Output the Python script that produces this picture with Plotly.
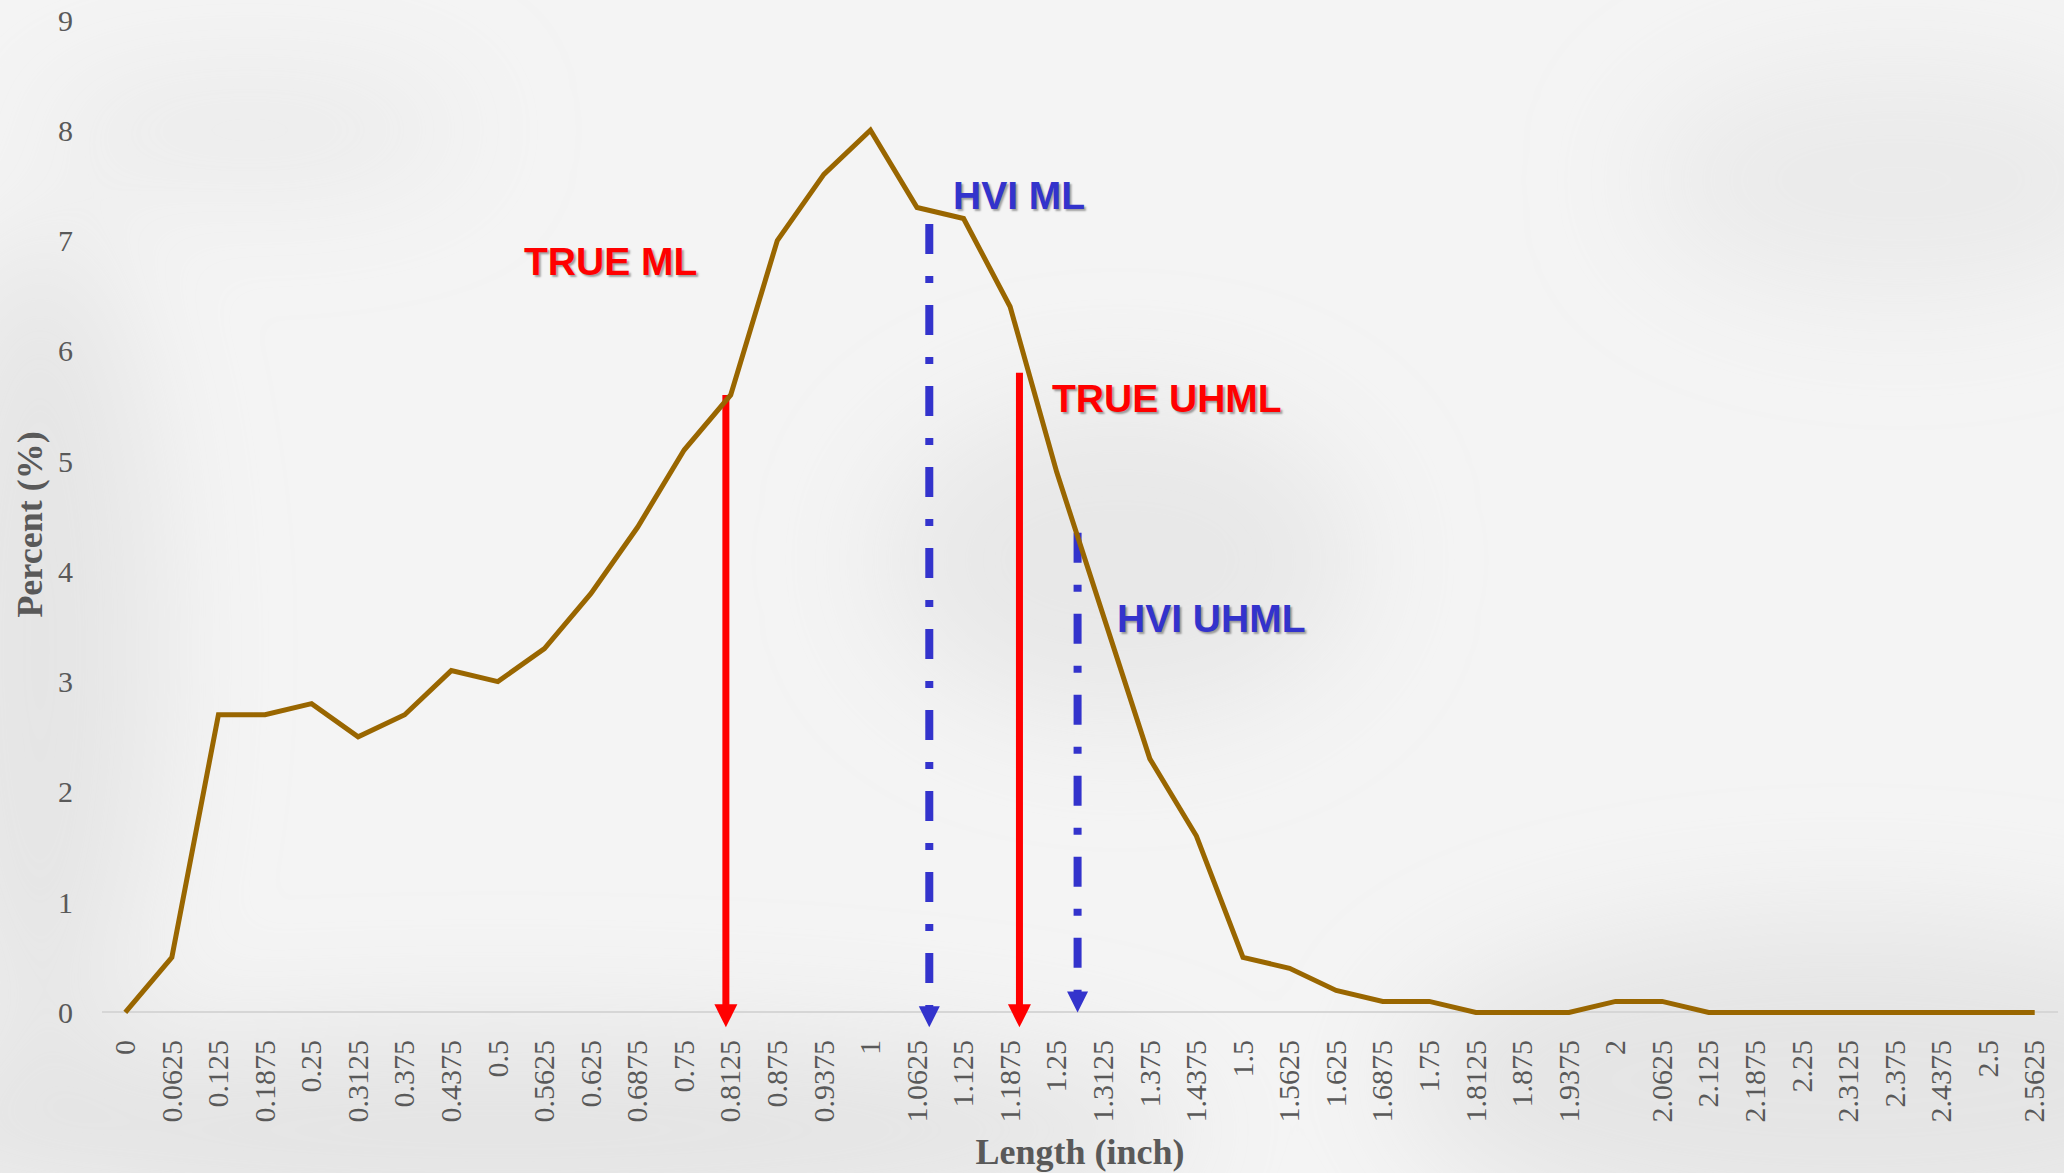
import base64
import plotly.graph_objects as go

# fibre length distribution (percent per 1/16 inch class)
length_labels = ["0", "0.0625", "0.125", "0.1875", "0.25", "0.3125", "0.375", "0.4375",
                 "0.5", "0.5625", "0.625", "0.6875", "0.75", "0.8125", "0.875", "0.9375",
                 "1", "1.0625", "1.125", "1.1875", "1.25", "1.3125", "1.375", "1.4375",
                 "1.5", "1.5625", "1.625", "1.6875", "1.75", "1.8125", "1.875", "1.9375",
                 "2", "2.0625", "2.125", "2.1875", "2.25", "2.3125", "2.375", "2.4375",
                 "2.5", "2.5625"]
percent = [0, 0.5, 2.7, 2.7, 2.8, 2.5, 2.7, 3.1, 3.0, 3.3, 3.8, 4.4, 5.1, 5.6,
           7.0, 7.6, 8.0, 7.3, 7.2, 6.4, 4.9, 3.6, 2.3, 1.6, 0.5, 0.4, 0.2, 0.1,
           0.1, 0, 0, 0, 0.1, 0.1, 0, 0, 0, 0, 0, 0, 0, 0]
lengths = [float(s) for s in length_labels]
y_ticks = [0, 1, 2, 3, 4, 5, 6, 7, 8, 9]

# length indicators drawn as arrows
indicator_names = ["TRUE ML", "HVI ML", "TRUE UHML", "HVI UHML"]
indicator_x = [0.806, 1.079, 1.200, 1.278]
indicator_top = [5.6, 7.15, 5.8, 4.35]
indicator_tip = [-0.135, -0.135, -0.135, 0.0]
label_x = [0.532, 1.108, 1.241, 1.328]
label_y = [6.81, 7.41, 5.57, 3.57]

RED = "#ff0000"
BLUE = "#3333cc"
styles = [
    dict(color=RED, width=7, dash="solid", head=23),
    dict(color=BLUE, width=8, dash="30px,22px,7px,22px", head=21),
    dict(color=RED, width=7, dash="solid", head=23),
    dict(color=BLUE, width=8, dash="30px,22px,7px,22px", head=21),
]

W, H = 2064, 1173
Y_MIN = -0.15
M = dict(l=102, r=6, t=20, b=144)
plot_w = W - M["l"] - M["r"]
plot_h = H - M["t"] - M["b"]
px_per_unit = plot_h / (9 - Y_MIN)

# soft grey backdrop, roughly like the smoky photo behind the original chart
bg_svg = f"""<svg xmlns='http://www.w3.org/2000/svg' width='{W}' height='{H}'>
<defs><filter id='b' x='-50%' y='-50%' width='200%' height='200%'><feGaussianBlur stdDeviation='60'/></filter></defs>
<rect width='{W}' height='{H}' fill='#f4f4f4'/>
<g filter='url(#b)' fill='#d9d9d9'>
<ellipse cx='40' cy='650' rx='120' ry='420' opacity='0.55'/>
<ellipse cx='500' cy='1130' rx='700' ry='100' opacity='0.6'/>
<ellipse cx='1850' cy='1080' rx='450' ry='160' opacity='0.55'/>
<ellipse cx='1120' cy='560' rx='240' ry='160' opacity='0.45'/>
<ellipse cx='1900' cy='180' rx='260' ry='120' opacity='0.35'/>
<ellipse cx='250' cy='130' rx='220' ry='60' opacity='0.35'/>
</g>
</svg>"""
bg_src = "data:image/svg+xml;base64," + base64.b64encode(bg_svg.encode()).decode()

fig = go.Figure()

for name, x, top, tip, st in zip(indicator_names, indicator_x, indicator_top, indicator_tip, styles):
    bottom = tip + 0.6 * st["head"] / px_per_unit
    fig.add_trace(go.Scatter(
        x=[x, x], y=[top, bottom], mode="lines",
        line=dict(color=st["color"], width=st["width"], dash=st["dash"]),
        hoverinfo="skip", showlegend=False))
    fig.add_trace(go.Scatter(
        x=[x], y=[tip], mode="markers",
        marker=dict(symbol="arrow-down", size=st["head"], color=st["color"], line=dict(width=0)),
        hoverinfo="skip", showlegend=False, cliponaxis=False))

fig.add_trace(go.Scatter(
    x=lengths, y=percent, mode="lines",
    line=dict(color="#996600", width=5),
    name="Percent", showlegend=False, cliponaxis=False))

for name, lx, ly, st in zip(indicator_names, label_x, label_y, styles):
    fig.add_annotation(
        x=lx, y=ly, xref="x", yref="y", text=name, showarrow=False,
        xanchor="left", yanchor="middle",
        font=dict(family="Liberation Sans, Arial", size=39, color=st["color"],
                  weight=700, shadow="2px 2px 2px rgba(0,0,0,0.35)"))

fig.add_layout_image(
    source=bg_src, xref="paper", yref="paper",
    x=-M["l"] / plot_w, y=1 + M["t"] / plot_h,
    sizex=W / plot_w, sizey=H / plot_h,
    xanchor="left", yanchor="top", sizing="stretch", layer="below")

tick_font = dict(family="Liberation Serif, Times New Roman", size=30, color="#595959")
title_font = dict(family="Liberation Serif, Times New Roman", size=36, color="#595959", weight=700)

fig.update_layout(
    width=W, height=H, margin=M,
    paper_bgcolor="#f4f4f4", plot_bgcolor="rgba(0,0,0,0)",
    xaxis=dict(range=[-0.03125, 2.59375], tickvals=lengths, ticktext=length_labels,
               tickangle=-90, tickfont=tick_font, showgrid=False, zeroline=False,
               showline=False, ticks="", automargin=False,
               ticklabelstandoff=4,
               title=dict(text="Length (inch)", font=title_font, standoff=17)),
    yaxis=dict(range=[Y_MIN, 9], tickvals=y_ticks, tickfont=tick_font, showgrid=False,
               zeroline=True, zerolinecolor="#d6d6d6", zerolinewidth=2,
               showline=False, ticks="", ticklabelstandoff=28, automargin=False,
               title=dict(text="Percent (%)", font=title_font, standoff=4)),
)

fig.write_html("out.html", config={"displayModeBar": False},
               post_script="document.body.style.margin='0';")
